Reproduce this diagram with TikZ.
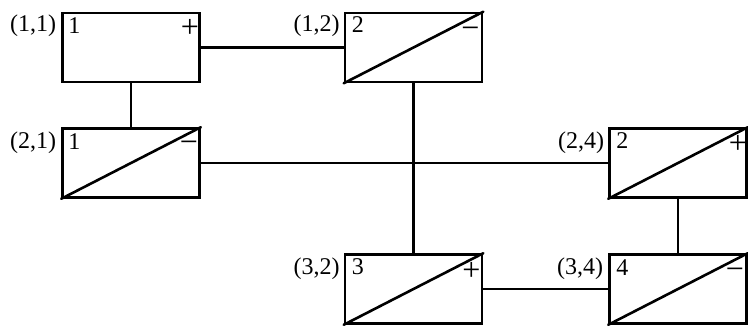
\documentclass[tikz,border=0pt]{standalone}
\usepackage{fontspec}
\setmainfont{Liberation Serif}
\begin{document}
\begin{tikzpicture}[x=1pt,y=-1pt,
  cell/.style={draw,line width=2.6pt,minimum width=137pt,minimum height=69pt,inner sep=0pt},
  wire/.style={line width=2.2pt},
  diag/.style={line width=2.6pt,line cap=round},
  lbl/.style={font=\fontsize{24}{24}\selectfont,inner sep=0pt},
  sgn/.style={font=\fontsize{32}{32}\selectfont,inner sep=0pt,anchor=base}]
\useasboundingbox (0,0) rectangle (748,325);
% boxes
\node[cell] (b11) at (131,47.5) {};
\node[cell] (b12) at (413.5,47.5) {};
\node[cell] (b21) at (131,163) {};
\node[cell] (b24) at (678,163) {};
\node[cell] (b32) at (413.5,289) {};
\node[cell] (b34) at (678,289) {};
% connectors
\draw[wire] (b11.east) -- (b12.west);
\draw[wire] (b11.south) -- (b21.north);
\draw[wire] (b21.east) -- (b24.west);
\draw[wire] (b12.south) -- (b32.north);
\draw[wire] (b24.south) -- (b34.north);
\draw[wire] (b32.east) -- (b34.west);
% diagonals
\draw[diag] (b12.south west) -- (b12.north east);
\draw[diag] (b21.south west) -- (b21.north east);
\draw[diag] (b24.south west) -- (b24.north east);
\draw[diag] (b32.south west) -- (b32.north east);
\draw[diag] (b34.south west) -- (b34.north east);
% outer labels
\node[lbl,anchor=base east] (l11) at ([xshift=-5pt,yshift=-20pt]b11.north west) {(1,1)};
\node[lbl,anchor=base east] (l12) at ([xshift=-4pt,yshift=-20pt]b12.north west) {(1,2)};
\node[lbl,anchor=base east] (l21) at ([xshift=-5pt,yshift=-21pt]b21.north west) {(2,1)};
\node[lbl,anchor=base east] (l24) at ([xshift=-4pt,yshift=-21pt]b24.north west) {(2,4)};
\node[lbl,anchor=base east] (l32) at ([xshift=-4pt,yshift=-21pt]b32.north west) {(3,2)};
\node[lbl,anchor=base east] (l34) at ([xshift=-5pt,yshift=-21pt]b34.north west) {(3,4)};
% inner numbers
\node[lbl,anchor=base west] (n11) at ([xshift=7pt,yshift=-22pt]b11.north west) {1};
\node[lbl,anchor=base west] (n12) at ([xshift=8pt,yshift=-21pt]b12.north west) {2};
\node[lbl,anchor=base west] (n21) at ([xshift=7pt,yshift=-22pt]b21.north west) {1};
\node[lbl,anchor=base west] (n24) at ([xshift=8pt,yshift=-21pt]b24.north west) {2};
\node[lbl,anchor=base west] (n32) at ([xshift=8pt,yshift=-21pt]b32.north west) {3};
\node[lbl,anchor=base west] (n34) at ([xshift=8pt,yshift=-22pt]b34.north west) {4};
% signs
\node[sgn] (s11) at ([xshift=-11pt,yshift=-26pt]b11.north east) {+};
\node[sgn] (s12) at ([xshift=-13pt,yshift=-27pt]b12.north east) {−};
\node[sgn] (s21) at ([xshift=-12pt,yshift=-25pt]b21.north east) {−};
\node[sgn] (s24) at ([xshift=-10pt,yshift=-26pt]b24.north east) {+};
\node[sgn] (s32) at ([xshift=-12pt,yshift=-27pt]b32.north east) {+};
\node[sgn] (s34) at ([xshift=-13pt,yshift=-26pt]b34.north east) {−};
\end{tikzpicture}
\end{document}
